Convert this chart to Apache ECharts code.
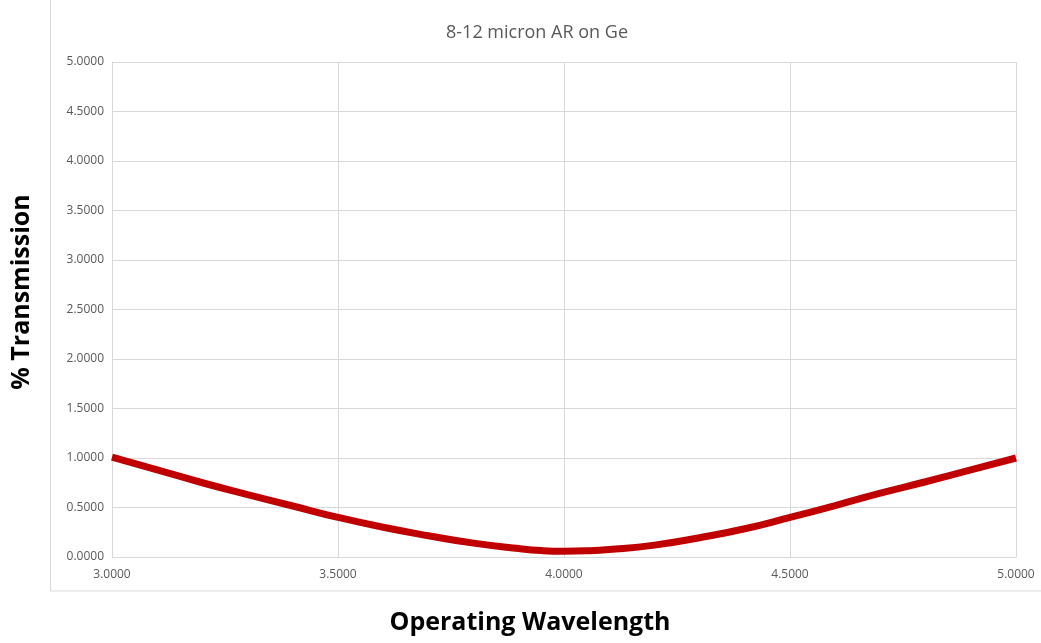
<!DOCTYPE html>
<html>
<head>
<meta charset="utf-8">
<title>8-12 micron AR on Ge</title>
<script src="https://cdn.jsdelivr.net/npm/echarts@6/dist/echarts.min.js"></script>
<style>
    html, body { margin: 0; padding: 0; background: #fff; }
    #chart { width: 1041px; height: 643px; }
</style>
</head>
<body>
<div id="chart"></div>
<script>
// wavelength samples and transmission
const wavelengths = [3.0, 3.1, 3.2, 3.3, 3.4, 3.5, 3.6, 3.7, 3.8, 3.9, 3.95, 4.0, 4.05, 4.1, 4.2, 4.3, 4.4, 4.5, 4.6, 4.7, 4.8, 4.9, 5.0];
const transmission = [1.01, 0.88, 0.75, 0.63, 0.515, 0.40, 0.30, 0.215, 0.14, 0.085, 0.065, 0.058, 0.062, 0.075, 0.12, 0.195, 0.285, 0.40, 0.52, 0.645, 0.76, 0.88, 1.00];

const titleText = '8-12 micron AR on Ge';
const xAxisTitle = 'Operating Wavelength';
const yAxisTitle = '% Transmission';

const gridColor = '#d9d9d9';
const labelColor = '#595959';

function initChart() {
    const chartDom = document.getElementById('chart');
    const myChart = echarts.init(chartDom);

    const seriesData = wavelengths.map((w, i) => [w, transmission[i]]);

    const axisTitleStyle = {
        fontFamily: 'Open Sans',
        fontSize: 25,
        fontWeight: 'bold',
        fill: '#000',
        align: 'center',
        verticalAlign: 'middle'
    };

    const option = {
        animation: false,
        backgroundColor: '#fff',
        graphic: [
            {
                type: 'rect',
                shape: { x: 50.5, y: -2, width: 1000, height: 593 },
                style: { fill: 'none', stroke: gridColor, lineWidth: 1 },
                silent: true
            },
            {
                type: 'text',
                x: 537,
                y: 33,
                style: {
                    text: titleText,
                    fontFamily: 'Open Sans',
                    fontSize: 18,
                    fill: labelColor,
                    align: 'center',
                    verticalAlign: 'middle'
                },
                silent: true
            },
            {
                type: 'text',
                x: 530,
                y: 623,
                style: Object.assign({ text: xAxisTitle }, axisTitleStyle),
                silent: true
            },
            {
                type: 'text',
                x: 22,
                y: 292,
                rotation: Math.PI / 2,
                style: Object.assign({ text: yAxisTitle }, axisTitleStyle),
                silent: true
            }
        ],
        grid: {
            left: 112,
            right: 25,
            top: 62,
            bottom: 86,
            containLabel: false,
            outerBoundsMode: 'none'
        },
        xAxis: {
            type: 'value',
            min: 3,
            max: 5,
            interval: 0.5,
            axisLine: { show: true, lineStyle: { color: gridColor } },
            axisTick: { show: false },
            axisLabel: {
                formatter: v => v.toFixed(4),
                fontFamily: 'Open Sans',
                fontSize: 12,
                color: labelColor,
                margin: 12
            },
            splitLine: { show: true, lineStyle: { color: gridColor } }
        },
        yAxis: {
            type: 'value',
            min: 0,
            max: 5,
            interval: 0.5,
            axisLine: { show: true, lineStyle: { color: gridColor } },
            axisTick: { show: false },
            axisLabel: {
                formatter: v => v.toFixed(4),
                fontFamily: 'Open Sans',
                fontSize: 12,
                color: labelColor,
                margin: 8
            },
            splitLine: { show: true, lineStyle: { color: gridColor } }
        },
        series: [
            {
                type: 'line',
                data: seriesData,
                smooth: true,
                showSymbol: false,
                lineStyle: { color: '#c00000', width: 7 },
                itemStyle: { color: '#c00000' }
            }
        ]
    };

    myChart.setOption(option);
}

initChart();
</script>
</body>
</html>
